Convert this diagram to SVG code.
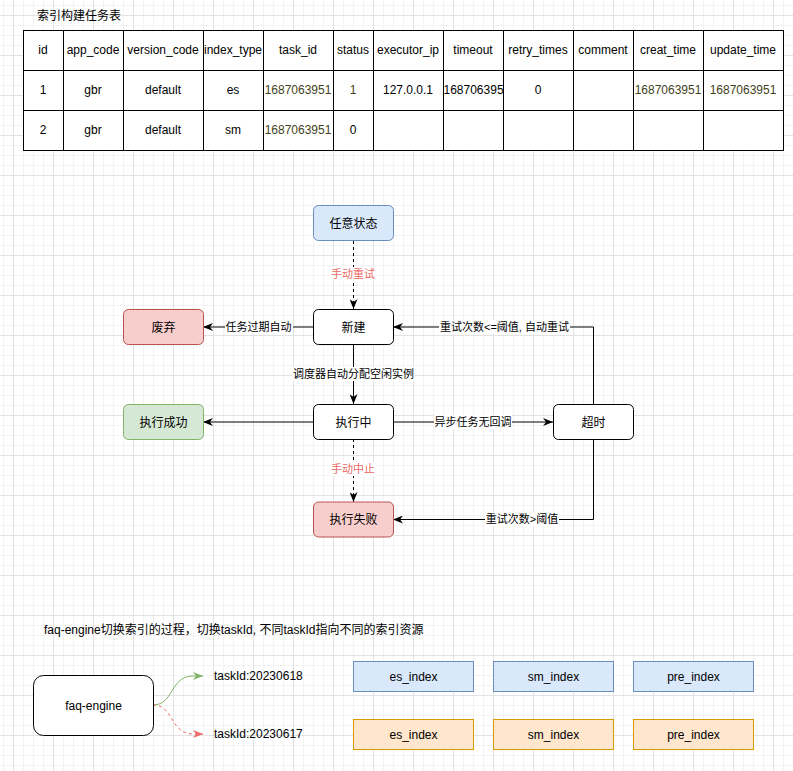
<svg xmlns="http://www.w3.org/2000/svg" width="793" height="771" viewBox="0 0 793 771">
<style>
text{font-family:"Liberation Sans","Noto Sans CJK SC",Arial,sans-serif;fill:#000}
.t12{font-size:12px}
.t11{font-size:11px}
.c{text-anchor:middle}
.s{text-anchor:start}
.ol{fill:#3f3f1c}
.red{fill:#ea6b66}
.edge{fill:none;stroke:#000;stroke-width:1}
.dash{stroke-dasharray:3 3}
.lbg{fill:#fff}
.tl{stroke:#000;stroke-width:1}
</style>
<defs>
<pattern id="grid" x="13" y="15" width="40" height="40" patternUnits="userSpaceOnUse">
<rect x="10" y="0" width="1" height="40" fill="#f3f3f3"/>
<rect x="20" y="0" width="1" height="40" fill="#f3f3f3"/>
<rect x="30" y="0" width="1" height="40" fill="#f3f3f3"/>
<rect x="0" y="10" width="40" height="1" fill="#f3f3f3"/>
<rect x="0" y="20" width="40" height="1" fill="#f3f3f3"/>
<rect x="0" y="30" width="40" height="1" fill="#f3f3f3"/>
<rect x="0" y="0" width="1" height="40" fill="#e2e2e2"/>
<rect x="0" y="0" width="40" height="1" fill="#e2e2e2"/>
</pattern>
<marker id="arr" viewBox="0 0 10 8" refX="10" refY="4" markerWidth="10" markerHeight="8" markerUnits="userSpaceOnUse" orient="auto">
<path d="M0,0 L10,4 L0,8 L3,4 z" fill="#000"/>
</marker>
<marker id="arrG" viewBox="0 0 10 8" refX="10" refY="4" markerWidth="10" markerHeight="8" markerUnits="userSpaceOnUse" orient="auto">
<path d="M0,0 L10,4 L0,8 L3,4 z" fill="#82b366"/>
</marker>
<marker id="arrR" viewBox="0 0 10 8" refX="10" refY="4" markerWidth="10" markerHeight="8" markerUnits="userSpaceOnUse" orient="auto">
<path d="M0,0 L10,4 L0,8 L3,4 z" fill="#ea6b66"/>
</marker>
<clipPath id="clipTimeout"><rect x="443" y="70" width="60" height="40"/></clipPath>
</defs>
<rect x="0" y="0" width="793" height="771" fill="#fff"/>
<rect x="0" y="0" width="793" height="771" fill="url(#grid)"/>

<g id="table">
<text class="t12" x="37" y="19.5">索引构建任务表</text>
<rect x="23.5" y="30.5" width="760" height="120" fill="#fff" stroke="#000"/>
<g class="tl">
<line x1="23" y1="70.5" x2="784" y2="70.5"/>
<line x1="23" y1="110.5" x2="784" y2="110.5"/>
<line x1="63.5" y1="30" x2="63.5" y2="151"/>
<line x1="123.5" y1="30" x2="123.5" y2="151"/>
<line x1="203.5" y1="30" x2="203.5" y2="151"/>
<line x1="263.5" y1="30" x2="263.5" y2="151"/>
<line x1="333.5" y1="30" x2="333.5" y2="151"/>
<line x1="373.5" y1="30" x2="373.5" y2="151"/>
<line x1="443.5" y1="30" x2="443.5" y2="151"/>
<line x1="503.5" y1="30" x2="503.5" y2="151"/>
<line x1="573.5" y1="30" x2="573.5" y2="151"/>
<line x1="633.5" y1="30" x2="633.5" y2="151"/>
<line x1="703.5" y1="30" x2="703.5" y2="151"/>
</g>
<text class="t12 c" x="43" y="54">id</text>
<text class="t12 c" x="93" y="54">app_code</text>
<text class="t12 c" x="163" y="54">version_code</text>
<text class="t12 c" x="233" y="54">index_type</text>
<text class="t12 c" x="298" y="54">task_id</text>
<text class="t12 c" x="353" y="54">status</text>
<text class="t12 c" x="408" y="54">executor_ip</text>
<text class="t12 c" x="473" y="54">timeout</text>
<text class="t12 c" x="538" y="54">retry_times</text>
<text class="t12 c" x="603" y="54">comment</text>
<text class="t12 c" x="668" y="54">creat_time</text>
<text class="t12 c" x="743" y="54">update_time</text>

<text class="t12 c" x="43" y="94">1</text>
<text class="t12 c" x="93" y="94">gbr</text>
<text class="t12 c" x="163" y="94">default</text>
<text class="t12 c" x="233" y="94">es</text>
<text class="t12 c ol" x="298" y="94">1687063951</text>
<text class="t12 c ol" x="353" y="94">1</text>
<text class="t12 c" x="408" y="94">127.0.0.1</text>
<text class="t12 s" x="443.5" y="94" clip-path="url(#clipTimeout)">1687063951</text>
<text class="t12 c" x="538" y="94">0</text>
<text class="t12 c ol" x="668" y="94">1687063951</text>
<text class="t12 c ol" x="743" y="94">1687063951</text>

<text class="t12 c" x="43" y="134">2</text>
<text class="t12 c" x="93" y="134">gbr</text>
<text class="t12 c" x="163" y="134">default</text>
<text class="t12 c" x="233" y="134">sm</text>
<text class="t12 c ol" x="298" y="134">1687063951</text>
<text class="t12 c" x="353" y="134">0</text>
</g>

<g id="connectors">
<line class="edge dash" x1="353.5" y1="241" x2="353.5" y2="309" marker-end="url(#arr)"/>
<line class="edge" x1="313" y1="327" x2="203" y2="327" marker-end="url(#arr)"/>
<polyline class="edge" points="593.5,404 593.5,327 393,327" marker-end="url(#arr)"/>
<line class="edge" x1="353.5" y1="344" x2="353.5" y2="404" marker-end="url(#arr)"/>
<line class="edge" x1="313" y1="422" x2="203" y2="422" marker-end="url(#arr)"/>
<line class="edge" x1="393" y1="422" x2="553" y2="422" marker-end="url(#arr)"/>
<line class="edge dash" x1="353.5" y1="439" x2="353.5" y2="502" marker-end="url(#arr)"/>
<polyline class="edge" points="593.5,439 593.5,519.5 393,519.5" marker-end="url(#arr)"/>
<path d="M153,705 C174,705 170,676 193,676 L203,676" fill="none" stroke="#82b366" stroke-width="1" marker-end="url(#arrG)"/>
<path d="M153,705 C174,705 170,734 193,734 L203,734" fill="none" stroke="#ea6b66" stroke-width="1" stroke-dasharray="3 3" marker-end="url(#arrR)"/>

<rect class="lbg" x="330" y="267" width="46" height="14"/>
<text class="t11 c red" x="353" y="278">手动重试</text>
<rect class="lbg" x="225" y="320" width="68" height="14"/>
<text class="t11 c" x="258.5" y="331">任务过期自动</text>
<rect class="lbg" x="439" y="320" width="131" height="14"/>
<text class="t11 c" x="504.5" y="331">重试次数&lt;=阈值, 自动重试</text>
<rect class="lbg" x="292" y="367" width="123" height="14"/>
<text class="t11 c" x="353.5" y="378">调度器自动分配空闲实例</text>
<rect class="lbg" x="434" y="415" width="78" height="14"/>
<text class="t11 c" x="473" y="426">异步任务无回调</text>
<rect class="lbg" x="330" y="462" width="46" height="14"/>
<text class="t11 c red" x="353" y="473">手动中止</text>
<rect class="lbg" x="485" y="512" width="74" height="14"/>
<text class="t11 c" x="522" y="523">重试次数&gt;阈值</text>
</g>

<g id="n-any">
<rect x="313.5" y="205.5" width="80" height="35" rx="5" fill="#dae8fc" stroke="#6c8ebf"/>
<text class="t12 c" x="353.5" y="227.5">任意状态</text>
</g>
<g id="n-new">
<rect x="313.5" y="309.5" width="80" height="35" rx="5" fill="#fff" stroke="#000"/>
<text class="t12 c" x="353.5" y="331.5">新建</text>
</g>
<g id="n-discard">
<rect x="123.5" y="309.5" width="80" height="35" rx="5" fill="#f8cecc" stroke="#b85450"/>
<text class="t12 c" x="163.5" y="331.5">废弃</text>
</g>
<g id="n-running">
<rect x="313.5" y="404.5" width="80" height="35" rx="5" fill="#fff" stroke="#000"/>
<text class="t12 c" x="353.5" y="426.5">执行中</text>
</g>
<g id="n-success">
<rect x="123.5" y="404.5" width="80" height="35" rx="5" fill="#d5e8d4" stroke="#82b366"/>
<text class="t12 c" x="163.5" y="426.5">执行成功</text>
</g>
<g id="n-timeout">
<rect x="553.5" y="404.5" width="80" height="35" rx="5" fill="#fff" stroke="#000"/>
<text class="t12 c" x="593.5" y="426.5">超时</text>
</g>
<g id="n-failed">
<rect x="313.5" y="502" width="80" height="35" rx="5" fill="#f8cecc" stroke="#b85450"/>
<text class="t12 c" x="353.5" y="524">执行失败</text>
</g>

<text class="t12" x="44" y="634">faq-engine切换索引的过程，切换taskId, 不同taskId指向不同的索引资源</text>

<g id="n-faq">
<rect x="33.5" y="675.5" width="120" height="60" rx="10" fill="#fff" stroke="#000"/>
<text class="t12 c" x="93.5" y="709.5">faq-engine</text>
</g>
<g id="n-task18"><text class="t12" x="214" y="680">taskId:20230618</text></g>
<g id="n-task17"><text class="t12" x="214" y="738">taskId:20230617</text></g>

<g id="n-es1">
<rect x="353.5" y="661.5" width="120" height="30" fill="#dae8fc" stroke="#6c8ebf"/>
<text class="t12 c" x="413.5" y="680.5">es_index</text>
</g>
<g id="n-sm1">
<rect x="493.5" y="661.5" width="120" height="30" fill="#dae8fc" stroke="#6c8ebf"/>
<text class="t12 c" x="553.5" y="680.5">sm_index</text>
</g>
<g id="n-pre1">
<rect x="633.5" y="661.5" width="120" height="30" fill="#dae8fc" stroke="#6c8ebf"/>
<text class="t12 c" x="693.5" y="680.5">pre_index</text>
</g>
<g id="n-es2">
<rect x="353.5" y="719.5" width="120" height="30" fill="#ffe6cc" stroke="#d79b00"/>
<text class="t12 c" x="413.5" y="738.5">es_index</text>
</g>
<g id="n-sm2">
<rect x="493.5" y="719.5" width="120" height="30" fill="#ffe6cc" stroke="#d79b00"/>
<text class="t12 c" x="553.5" y="738.5">sm_index</text>
</g>
<g id="n-pre2">
<rect x="633.5" y="719.5" width="120" height="30" fill="#ffe6cc" stroke="#d79b00"/>
<text class="t12 c" x="693.5" y="738.5">pre_index</text>
</g>
</svg>
